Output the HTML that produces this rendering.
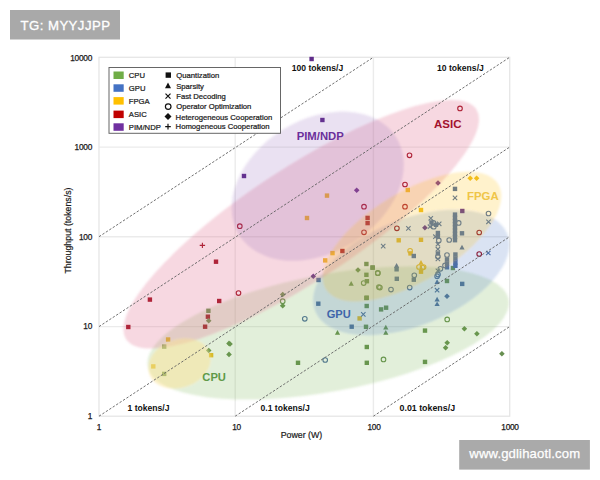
<!DOCTYPE html>
<html><head><meta charset="utf-8">
<style>
html,body{margin:0;padding:0;background:#fff;width:600px;height:480px;overflow:hidden}
svg{display:block;font-family:"Liberation Sans",Arial,Helvetica,sans-serif}
.tk{font-size:8.3px;fill:#1a1a1a;letter-spacing:-0.27px;stroke:#1a1a1a;stroke-width:0.25px}
.ax{font-size:8.8px;fill:#1a1a1a;stroke:#1a1a1a;stroke-width:0.2px}
.tj{font-size:8.6px;font-weight:bold;fill:#111}
.lg{font-size:7.7px;fill:#1a1a1a;stroke:#1a1a1a;stroke-width:0.22px}
.big{font-weight:bold}
</style></head><body>
<svg width="600" height="480" viewBox="0 0 600 480">
<rect width="600" height="480" fill="#fff"/>
<rect x="10" y="10" width="110" height="29.5" fill="#a9a9a9"/>
<text x="20.5" y="30" font-size="13.2" letter-spacing="0.45" fill="#fff" stroke="#fff" stroke-width="0.3">TG: MYYJJPP</text>

<g stroke="#ebebeb" stroke-width="1.4" fill="none">
<line x1="235.2" y1="57.3" x2="235.2" y2="416.2"/>
<line x1="373.4" y1="57.3" x2="373.4" y2="416.2"/>
<line x1="99" y1="147.1" x2="509.7" y2="147.1"/>
<line x1="99" y1="236.7" x2="509.7" y2="236.7"/>
<line x1="99" y1="326.6" x2="509.7" y2="326.6"/>
</g>
<rect x="99" y="57.3" width="410.7" height="358.9" fill="none" stroke="#e6e6e6" stroke-width="1.3"/>

<g id="pts">
<rect x="309.4" y="56.8" width="4.4" height="4.4" fill="#5f2c8a"/>
<rect x="320.2" y="117.8" width="4.4" height="4.4" fill="#5f2c8a"/>
<rect x="241.8" y="173.8" width="4.4" height="4.4" fill="#5f2c8a"/>
<path d="M356.7 187.5L359.5 190.3L356.7 193.1L353.9 190.3Z" fill="#5f2c8a"/>
<path d="M438.0 180.2L440.8 183.0L438.0 185.8L435.2 183.0Z" fill="#5f2c8a"/>
<path d="M424.9 224.9L427.7 227.7L424.9 230.5L422.1 227.7Z" fill="#5f2c8a"/>
<path d="M313.3 273.5L316.1 276.3L313.3 279.1L310.5 276.3Z" fill="#5f2c8a"/>
<circle cx="460.0" cy="108.4" r="2.3" fill="none" stroke="#9c0819" stroke-width="1.1"/>
<circle cx="409.5" cy="155.3" r="2.3" fill="none" stroke="#9c0819" stroke-width="1.1"/>
<circle cx="405.0" cy="184.5" r="2.3" fill="none" stroke="#9c0819" stroke-width="1.1"/>
<circle cx="364.0" cy="206.7" r="2.3" fill="none" stroke="#9c0819" stroke-width="1.1"/>
<circle cx="405.0" cy="206.7" r="2.3" fill="none" stroke="#9c0819" stroke-width="1.1"/>
<circle cx="239.8" cy="226.2" r="2.3" fill="none" stroke="#9c0819" stroke-width="1.1"/>
<circle cx="396.9" cy="228.3" r="2.3" fill="none" stroke="#9c0819" stroke-width="1.1"/>
<circle cx="364.0" cy="232.3" r="2.3" fill="none" stroke="#9c0819" stroke-width="1.1"/>
<circle cx="238.5" cy="293.1" r="2.3" fill="none" stroke="#9c0819" stroke-width="1.1"/>
<circle cx="479.2" cy="232.5" r="2.3" fill="none" stroke="#9c0819" stroke-width="1.1"/>
<circle cx="479.2" cy="254.0" r="2.3" fill="none" stroke="#9c0819" stroke-width="1.1"/>
<path d="M202.4 242.7V248.1M199.7 245.4H205.1" stroke="#9c0819" stroke-width="1.1" fill="none"/>
<rect x="213.8" y="259.5" width="4.4" height="4.4" fill="#9c0819"/>
<rect x="147.7" y="297.4" width="4.4" height="4.4" fill="#9c0819"/>
<rect x="126.1" y="324.8" width="4.4" height="4.4" fill="#9c0819"/>
<rect x="217.0" y="298.8" width="4.4" height="4.4" fill="#9c0819"/>
<rect x="205.7" y="314.5" width="4.4" height="4.4" fill="#9c0819"/>
<rect x="202.9" y="324.5" width="4.4" height="4.4" fill="#9c0819"/>
<rect x="340.2" y="248.8" width="4.4" height="4.4" fill="#9c0819"/>
<rect x="365.4" y="215.7" width="4.4" height="4.4" fill="#9c0819"/>
<rect x="365.4" y="220.9" width="4.4" height="4.4" fill="#9c0819"/>
<rect x="324.8" y="193.4" width="4.4" height="4.4" fill="#efbd22"/>
<rect x="304.8" y="215.8" width="4.4" height="4.4" fill="#efbd22"/>
<rect x="405.6" y="187.8" width="4.4" height="4.4" fill="#efbd22"/>
<rect x="418.8" y="207.8" width="4.4" height="4.4" fill="#efbd22"/>
<rect x="396.5" y="238.1" width="4.4" height="4.4" fill="#efbd22"/>
<rect x="418.8" y="237.6" width="4.4" height="4.4" fill="#efbd22"/>
<path d="M470.2 175.4L473.0 178.2L470.2 181.0L467.4 178.2Z" fill="#efbd22"/>
<path d="M476.6 175.4L479.4 178.2L476.6 181.0L473.8 178.2Z" fill="#efbd22"/>
<rect x="323.0" y="258.2" width="4.4" height="4.4" fill="#efbd22"/>
<rect x="330.3" y="250.9" width="4.4" height="4.4" fill="#efbd22"/>
<rect x="165.9" y="337.3" width="4.4" height="4.4" fill="#efbd22"/>
<rect x="151.1" y="364.2" width="4.4" height="4.4" fill="#efbd22"/>
<rect x="208.9" y="353.0" width="4.4" height="4.4" fill="#efbd22"/>
<rect x="408.3" y="251.2" width="4.4" height="4.4" fill="#efbd22"/>
<path d="M421.0 260.0L423.6 264.7L418.4 264.7Z" fill="#efbd22"/>
<circle cx="419.0" cy="267.0" r="2.3" fill="none" stroke="#efbd22" stroke-width="1.1"/>
<circle cx="423.6" cy="267.0" r="2.3" fill="none" stroke="#efbd22" stroke-width="1.1"/>
<rect x="418.8" y="269.5" width="4.4" height="4.4" fill="#efbd22"/>
<circle cx="410.1" cy="250.8" r="2.3" fill="none" stroke="#efbd22" stroke-width="1.1"/>
<circle cx="422.5" cy="267.5" r="2.3" fill="none" stroke="#efbd22" stroke-width="1.1"/>
<rect x="357.4" y="316.2" width="4.4" height="4.4" fill="#efbd22"/>
<rect x="162.0" y="344.4" width="4.4" height="4.4" fill="#678f50"/>
<rect x="162.0" y="371.7" width="4.4" height="4.4" fill="#678f50"/>
<path d="M208.7 318.0L211.5 320.8L208.7 323.6L205.9 320.8Z" fill="#678f50"/>
<rect x="206.2" y="308.6" width="4.4" height="4.4" fill="#678f50"/>
<path d="M208.7 347.7L211.5 350.5L208.7 353.3L205.9 350.5Z" fill="#678f50"/>
<path d="M229.0 340.6L231.8 343.4L229.0 346.2L226.2 343.4Z" fill="#678f50"/>
<path d="M229.0 351.6L231.8 354.4L229.0 357.2L226.2 354.4Z" fill="#678f50"/>
<path d="M282.7 291.7L285.5 294.5L282.7 297.3L279.9 294.5Z" fill="#678f50"/>
<circle cx="282.7" cy="301.2" r="2.3" fill="none" stroke="#678f50" stroke-width="1.1"/>
<path d="M282.7 302.9L285.5 305.7L282.7 308.5L279.9 305.7Z" fill="#678f50"/>
<path d="M358.0 267.2L360.8 270.0L358.0 272.8L355.2 270.0Z" fill="#678f50"/>
<rect x="364.2" y="261.8" width="4.4" height="4.4" fill="#678f50"/>
<rect x="370.4" y="265.5" width="4.4" height="4.4" fill="#678f50"/>
<rect x="364.2" y="272.6" width="4.4" height="4.4" fill="#678f50"/>
<rect x="364.7" y="279.0" width="4.4" height="4.4" fill="#678f50"/>
<circle cx="363.7" cy="283.1" r="2.3" fill="none" stroke="#678f50" stroke-width="1.1"/>
<path d="M351.2 281.1L353.8 285.8L348.6 285.8Z" fill="#678f50"/>
<circle cx="377.8" cy="272.9" r="2.3" fill="none" stroke="#678f50" stroke-width="1.1"/>
<circle cx="378.9" cy="287.0" r="2.3" fill="none" stroke="#678f50" stroke-width="1.1"/>
<rect x="364.2" y="295.8" width="4.4" height="4.4" fill="#678f50"/>
<rect x="370.4" y="265.3" width="4.4" height="4.4" fill="#678f50"/>
<circle cx="377.8" cy="273.2" r="2.3" fill="none" stroke="#678f50" stroke-width="1.1"/>
<rect x="378.9" y="307.2" width="4.4" height="4.4" fill="#678f50"/>
<rect x="383.9" y="305.5" width="4.4" height="4.4" fill="#678f50"/>
<rect x="364.5" y="295.5" width="4.4" height="4.4" fill="#678f50"/>
<rect x="364.5" y="303.8" width="4.4" height="4.4" fill="#678f50"/>
<rect x="363.8" y="324.6" width="4.4" height="4.4" fill="#678f50"/>
<path d="M337.5 330.0L340.1 334.7L334.9 334.7Z" fill="#678f50"/>
<path d="M385.8 324.7L388.4 329.4L383.2 329.4Z" fill="#678f50"/>
<path d="M385.8 330.0L388.4 334.7L383.2 334.7Z" fill="#678f50"/>
<rect x="364.6" y="344.8" width="4.4" height="4.4" fill="#678f50"/>
<rect x="364.6" y="360.6" width="4.4" height="4.4" fill="#678f50"/>
<circle cx="383.5" cy="359.4" r="2.3" fill="none" stroke="#678f50" stroke-width="1.1"/>
<rect x="295.8" y="360.6" width="4.4" height="4.4" fill="#678f50"/>
<path d="M230.0 341.2L232.8 344.0L230.0 346.8L227.2 344.0Z" fill="#678f50"/>
<rect x="422.8" y="328.4" width="4.4" height="4.4" fill="#678f50"/>
<rect x="422.8" y="359.7" width="4.4" height="4.4" fill="#678f50"/>
<path d="M464.4 326.0L467.2 328.8L464.4 331.6L461.6 328.8Z" fill="#678f50"/>
<path d="M476.9 331.0L479.7 333.8L476.9 336.6L474.1 333.8Z" fill="#678f50"/>
<path d="M447.2 340.0L450.0 342.8L447.2 345.6L444.4 342.8Z" fill="#678f50"/>
<path d="M445.6 345.0L448.4 347.8L445.6 350.6L442.8 347.8Z" fill="#678f50"/>
<path d="M501.9 351.0L504.7 353.8L501.9 356.6L499.1 353.8Z" fill="#678f50"/>
<circle cx="447.2" cy="319.4" r="2.3" fill="none" stroke="#678f50" stroke-width="1.1"/>
<rect x="444.8" y="278.8" width="4.4" height="4.4" fill="#678f50"/>
<rect x="450.7" y="265.8" width="4.4" height="4.4" fill="#678f50"/>
<circle cx="379.9" cy="287.6" r="2.3" fill="none" stroke="#678f50" stroke-width="1.1"/>
<rect x="452.8" y="186.7" width="4.4" height="4.4" fill="#4d6ca0"/>
<path d="M452.8 195.7L457.2 200.1M457.2 195.7L452.8 200.1" stroke="#4d6ca0" stroke-width="1.1" fill="none"/>
<rect x="316.1" y="301.5" width="4.4" height="4.4" fill="#4d6ca0"/>
<path d="M361.1 312.2L365.5 316.6M365.5 312.2L361.1 316.6" stroke="#4d6ca0" stroke-width="1.1" fill="none"/>
<rect x="349.5" y="324.5" width="4.4" height="4.4" fill="#4d6ca0"/>
<circle cx="304.8" cy="318.8" r="2.3" fill="none" stroke="#4d6ca0" stroke-width="1.1"/>
<circle cx="325.2" cy="360.0" r="2.3" fill="none" stroke="#4d6ca0" stroke-width="1.1"/>
<rect x="316.3" y="277.8" width="4.4" height="4.4" fill="#4d6ca0"/>
<path d="M406.2 226.2L410.6 230.6M410.6 226.2L406.2 230.6" stroke="#4d6ca0" stroke-width="1.1" fill="none"/>
<path d="M381.0 243.9L385.4 248.3M385.4 243.9L381.0 248.3" stroke="#4d6ca0" stroke-width="1.1" fill="none"/>
<rect x="411.6" y="253.8" width="4.4" height="4.4" fill="#4d6ca0"/>
<path d="M396.6 263.1L399.2 267.8L394.0 267.8Z" fill="#4d6ca0"/>
<rect x="394.4" y="267.1" width="4.4" height="4.4" fill="#4d6ca0"/>
<rect x="394.6" y="276.6" width="4.4" height="4.4" fill="#4d6ca0"/>
<circle cx="391.0" cy="289.6" r="2.3" fill="none" stroke="#4d6ca0" stroke-width="1.1"/>
<circle cx="409.7" cy="287.6" r="2.3" fill="none" stroke="#4d6ca0" stroke-width="1.1"/>
<circle cx="414.3" cy="275.3" r="2.3" fill="none" stroke="#4d6ca0" stroke-width="1.1"/>
<rect x="411.6" y="277.5" width="4.4" height="4.4" fill="#4d6ca0"/>
<rect x="460.0" y="281.7" width="4.4" height="4.4" fill="#4d6ca0"/>
<path d="M447.0 293.4L449.8 296.2L447.0 299.0L444.2 296.2Z" fill="#4d6ca0"/>
<path d="M462.0 244.7L464.6 249.4L459.4 249.4Z" fill="#4d6ca0"/>
<rect x="459.8" y="231.1" width="4.4" height="4.4" fill="#4d6ca0"/>
<circle cx="458.7" cy="222.9" r="2.3" fill="none" stroke="#4d6ca0" stroke-width="1.1"/>
<circle cx="449.2" cy="240.0" r="2.3" fill="none" stroke="#4d6ca0" stroke-width="1.1"/>
<circle cx="488.5" cy="213.5" r="2.3" fill="none" stroke="#4d6ca0" stroke-width="1.1"/>
<path d="M486.3 219.6L490.7 224.0M490.7 219.6L486.3 224.0" stroke="#4d6ca0" stroke-width="1.1" fill="none"/>
<path d="M486.1 250.8L490.5 255.2M490.5 250.8L486.1 255.2" stroke="#4d6ca0" stroke-width="1.1" fill="none"/>
<rect x="460.1" y="208.8" width="4.4" height="4.4" fill="#5f2c8a"/>
<path d="M428.6 216.1L433.0 220.5M433.0 216.1L428.6 220.5" stroke="#4d6ca0" stroke-width="1.1" fill="none"/>
<path d="M437.0 221.6L441.4 226.0M441.4 221.6L437.0 226.0" stroke="#4d6ca0" stroke-width="1.1" fill="none"/>
<path d="M427.8 224.5L432.2 228.9M432.2 224.5L427.8 228.9" stroke="#4d6ca0" stroke-width="1.1" fill="none"/>
<rect x="429.3" y="220.3" width="4.4" height="4.4" fill="#4d6ca0"/>
<circle cx="433.5" cy="222.9" r="2.3" fill="none" stroke="#4d6ca0" stroke-width="1.1"/>
<circle cx="433.8" cy="226.7" r="2.3" fill="none" stroke="#4d6ca0" stroke-width="1.1"/>
<rect x="433.8" y="222.6" width="4.4" height="4.4" fill="#4d6ca0"/>
<rect x="435.7" y="230.8" width="4.4" height="4.4" fill="#4d6ca0"/>
<rect x="435.7" y="234.3" width="4.4" height="4.4" fill="#4d6ca0"/>
<path d="M433.2 234.5L437.6 238.9M437.6 234.5L433.2 238.9" stroke="#4d6ca0" stroke-width="1.1" fill="none"/>
<circle cx="438.8" cy="240.4" r="2.3" fill="none" stroke="#4d6ca0" stroke-width="1.1"/>
<path d="M435.7 242.0L440.1 246.4M440.1 242.0L435.7 246.4" stroke="#4d6ca0" stroke-width="1.1" fill="none"/>
<path d="M435.7 247.0L440.1 251.4M440.1 247.0L435.7 251.4" stroke="#4d6ca0" stroke-width="1.1" fill="none"/>
<rect x="435.7" y="251.3" width="4.4" height="4.4" fill="#4d6ca0"/>
<circle cx="437.9" cy="256.5" r="2.3" fill="none" stroke="#4d6ca0" stroke-width="1.1"/>
<path d="M435.7 256.8L440.1 261.2M440.1 256.8L435.7 261.2" stroke="#4d6ca0" stroke-width="1.1" fill="none"/>
<circle cx="447.0" cy="255.0" r="2.3" fill="none" stroke="#4d6ca0" stroke-width="1.1"/>
<rect x="444.8" y="257.3" width="4.4" height="4.4" fill="#4d6ca0"/>
<rect x="444.8" y="261.3" width="4.4" height="4.4" fill="#4d6ca0"/>
<rect x="444.8" y="265.1" width="4.4" height="4.4" fill="#4d6ca0"/>
<circle cx="445.0" cy="265.4" r="2.3" fill="none" stroke="#4d6ca0" stroke-width="1.1"/>
<circle cx="440.4" cy="268.8" r="2.3" fill="none" stroke="#4d6ca0" stroke-width="1.1"/>
<circle cx="438.0" cy="274.6" r="2.3" fill="none" stroke="#4d6ca0" stroke-width="1.1"/>
<rect x="453.2" y="252.3" width="4.4" height="4.4" fill="#4d6ca0"/>
<rect x="453.2" y="256.3" width="4.4" height="4.4" fill="#4d6ca0"/>
<rect x="453.2" y="260.3" width="4.4" height="4.4" fill="#4d6ca0"/>
<rect x="453.2" y="263.6" width="4.4" height="4.4" fill="#4d6ca0"/>
<path d="M437.1 279.2L439.7 283.9L434.5 283.9Z" fill="#4d6ca0"/>
<path d="M434.9 288.0L439.3 292.4M439.3 288.0L434.9 292.4" stroke="#4d6ca0" stroke-width="1.1" fill="none"/>
<path d="M437.1 296.7L439.7 301.4L434.5 301.4Z" fill="#4d6ca0"/>
<path d="M437.1 301.4L439.7 306.1L434.5 306.1Z" fill="#4d6ca0"/>
<circle cx="437.1" cy="276.2" r="2.3" fill="none" stroke="#4d6ca0" stroke-width="1.1"/>
<path d="M435.7 268.6L440.1 273.0M440.1 268.6L435.7 273.0" stroke="#4d6ca0" stroke-width="1.1" fill="none"/>
<rect x="452.8" y="212.4" width="4.4" height="4.4" fill="#4d6ca0"/>
<rect x="452.8" y="215.6" width="4.4" height="4.4" fill="#4d6ca0"/>
<rect x="452.8" y="218.8" width="4.4" height="4.4" fill="#4d6ca0"/>
<rect x="452.8" y="222.0" width="4.4" height="4.4" fill="#4d6ca0"/>
<rect x="452.8" y="225.2" width="4.4" height="4.4" fill="#4d6ca0"/>
<rect x="452.8" y="228.4" width="4.4" height="4.4" fill="#4d6ca0"/>
<rect x="452.8" y="231.6" width="4.4" height="4.4" fill="#4d6ca0"/>
<rect x="452.8" y="234.8" width="4.4" height="4.4" fill="#4d6ca0"/>
<rect x="452.8" y="238.0" width="4.4" height="4.4" fill="#4d6ca0"/>
</g>
<defs><filter id="soft" x="-5%" y="-5%" width="110%" height="110%"><feGaussianBlur stdDeviation="0.9"/></filter></defs>
<g id="ell" filter="url(#soft)">
<ellipse cx="328.2" cy="333.0" rx="183.4" ry="58.6" transform="rotate(-10.5 328.2 333.0)" fill="#70ad47" fill-opacity="0.2"/>
<ellipse cx="411.2" cy="272.4" rx="103.5" ry="53.3" transform="rotate(-21.9 411.2 272.4)" fill="#4472c4" fill-opacity="0.2"/>
<ellipse cx="301.2" cy="224.3" rx="209.5" ry="56.3" transform="rotate(-33.3 301.2 224.3)" fill="#e07090" fill-opacity="0.27"/>
<ellipse cx="317.7" cy="186.2" rx="92.5" ry="66.5" transform="rotate(-31.8 317.7 186.2)" fill="#8050b0" fill-opacity="0.165"/>
<ellipse cx="412.0" cy="236.6" rx="101.0" ry="44.7" transform="rotate(-31.3 412.0 236.6)" fill="#ffc000" fill-opacity="0.2"/>
<ellipse cx="179.5" cy="363.5" rx="32" ry="24" transform="rotate(-20 179.5 363.5)" fill="#fce496" fill-opacity="0.5"/>
</g>

<g stroke="#606060" stroke-width="0.9" stroke-dasharray="2.4 1.7" fill="none">
<line x1="99" y1="236.7" x2="373.4" y2="57.3"/>
<line x1="99" y1="326.6" x2="509.7" y2="57.3"/>
<line x1="99" y1="416.2" x2="509.7" y2="147.1"/>
<line x1="235.2" y1="416.2" x2="509.7" y2="236.7"/>
<line x1="373.4" y1="416.2" x2="509.7" y2="326.6"/>
</g>

<text class="tj" x="291.7" y="71">100 tokens/J</text>
<text class="tj" x="437" y="71">10 tokens/J</text>
<text class="tj" x="127.5" y="410.5">1 tokens/J</text>
<text class="tj" x="260.5" y="410.5">0.1 tokens/J</text>
<text class="tj" x="399.5" y="410.5" style="font-size:8.85px">0.01 tokens/J</text>

<text class="big" x="434" y="128.3" font-size="11.5" fill="#a3122e">ASIC</text>
<text class="big" x="296.7" y="139.7" font-size="11.3" fill="#6b2f9b">PIM/NDP</text>
<text class="big" x="467" y="200.4" font-size="11.4" fill="#efc548">FPGA</text>
<text class="big" x="326.7" y="318.3" font-size="11.1" fill="#3f66aa">GPU</text>
<text class="big" x="202.3" y="381" font-size="11.2" fill="#5f9a48">CPU</text>

<g class="tk" text-anchor="end">
<text x="92" y="60.5">10000</text>
<text x="92" y="150.2">1000</text>
<text x="92" y="239.8">100</text>
<text x="92" y="329.3">10</text>
<text x="92" y="419.2">1</text>
</g>
<g class="tk" text-anchor="middle">
<text x="99" y="429.5">1</text>
<text x="236.5" y="429.5">10</text>
<text x="374" y="429.5">100</text>
<text x="510" y="429.5">1000</text>
</g>
<text class="ax" x="301.4" y="437.6" text-anchor="middle">Power (W)</text>
<text class="ax" transform="translate(70.6 230.5) rotate(-90)" text-anchor="middle">Throughput (tokens/s)</text>

<rect x="109" y="67.5" width="171.5" height="65.8" fill="#fff" stroke="#666" stroke-width="1"/>
<g>
<rect x="113.5" y="71.5" width="10.2" height="7.5" fill="#70ad47"/>
<rect x="113.5" y="84.3" width="10.2" height="7.5" fill="#4472c4"/>
<rect x="113.5" y="97.1" width="10.2" height="7.5" fill="#ffc000"/>
<rect x="113.5" y="110.6" width="10.2" height="7.5" fill="#c00000"/>
<rect x="113.5" y="123.3" width="10.2" height="7.5" fill="#7030a0"/>
</g>
<g class="lg">
<text x="128.8" y="78.3">CPU</text>
<text x="128.8" y="91">GPU</text>
<text x="128.8" y="103.6">FPGA</text>
<text x="128.8" y="117.3">ASIC</text>
<text x="128.8" y="130">PIM/NDP</text>
<text x="176.2" y="78">Quantization</text>
<text x="176.2" y="88.5">Sparsity</text>
<text x="176.2" y="99">Fast Decoding</text>
<text x="176.2" y="109.3">Operator Optimization</text>
<text x="175.6" y="119.5">Heterogeneous Cooperation</text>
<text x="175.6" y="129.3">Homogeneous Cooperation</text>
</g>
<g fill="#111" stroke="#111">
<rect x="165.6" y="72.4" width="5.4" height="5.4" stroke="none"/>
<path d="M168 82.6 L171 88.2 L165 88.2 Z" stroke="none"/>
<path d="M165.5 93.7 L170.5 98.7 M170.5 93.7 L165.5 98.7" stroke-width="1.2" fill="none"/>
<circle cx="168.2" cy="106.6" r="2.8" fill="none" stroke-width="1.2"/>
<path d="M168 113.1 L171.5 116.6 L168 120.1 L164.5 116.6 Z" stroke="none"/>
<path d="M168 123.8 V129.4 M165.2 126.6 H170.8" stroke-width="1.2" fill="none"/>
</g>

<rect x="459.2" y="440" width="130.7" height="29.6" fill="#aaaaaa"/>
<text x="469.3" y="458.3" font-size="13.1" letter-spacing="0.15" fill="#fff" stroke="#fff" stroke-width="0.25">www.gdlihaotl.com</text>
</svg>
</body></html>
